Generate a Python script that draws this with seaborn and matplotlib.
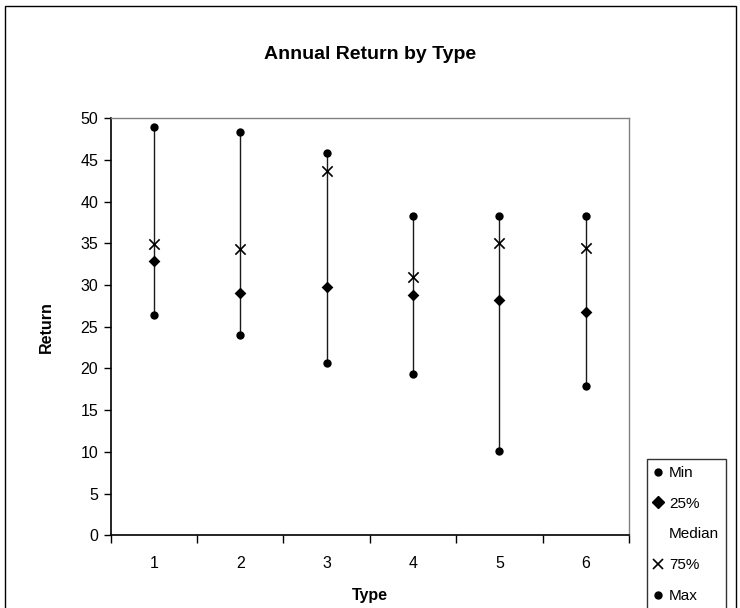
import numpy as np
import pandas as pd
import matplotlib
matplotlib.use("Agg")
import matplotlib.pyplot as plt
from matplotlib.lines import Line2D
from matplotlib.patches import Rectangle
import seaborn as sns

# Summary statistics of annual return for each fund type
types = ["1", "2", "3", "4", "5", "6"]
ret_min = [26.4, 24.0, 20.6, 19.4, 10.1, 17.9]
ret_q1 = [32.9, 29.0, 29.8, 28.8, 28.2, 26.8]
ret_q3 = [34.9, 34.3, 43.7, 31.0, 35.1, 34.5]
ret_max = [48.9, 48.3, 45.9, 38.3, 38.3, 38.3]

sns.set_theme(style="white", rc={
    "text.color": "black", "axes.labelcolor": "black",
    "xtick.color": "black", "ytick.color": "black",
})
plt.rcParams["font.family"] = ["Liberation Sans", "DejaVu Sans"]

fig = plt.figure(figsize=(7.4, 6.08), dpi=100)
ax = fig.add_axes([0.1496, 0.1196, 0.7004, 0.6858])

pos = np.arange(len(types))
long = pd.DataFrame({
    "pos": np.concatenate([pos] * 4),
    "Return": np.concatenate([ret_min, ret_q1, ret_q3, ret_max]),
    "stat": ["Min"] * 6 + ["25%"] * 6 + ["75%"] * 6 + ["Max"] * 6,
})

# high-low lines from minimum to maximum
ax.vlines(pos, ret_min, ret_max, color="#1a1a1a", lw=1.0, zorder=1)

marker_map = {"Min": "o", "25%": "D", "75%": "x", "Max": "o"}
size_map = {"Min": 36, "25%": 36, "75%": 55, "Max": 36}
for stat, grp in long.groupby("stat", sort=False):
    sns.scatterplot(data=grp, x="pos", y="Return", marker=marker_map[stat],
                    s=size_map[stat], color="black", edgecolor="black",
                    linewidth=1.2 if stat == "75%" else 0, ax=ax, zorder=3,
                    legend=False)

ax.set_xlim(-0.5, len(types) - 0.5)
ax.set_ylim(0, 50)
ax.set_yticks(np.arange(0, 51, 5))
ax.set_yticklabels([str(v) for v in range(0, 51, 5)], fontsize=11.5)

# category boundaries carry the tick marks, labels sit at the centers
ax.set_xticks(np.arange(-0.5, len(types), 1.0))
ax.set_xticklabels([])
ax.set_xticks(pos, minor=True)
ax.set_xticklabels(types, minor=True, fontsize=11.5)
ax.tick_params(axis="x", which="major", direction="out", length=6, width=1,
               color="black", bottom=True)
ax.tick_params(axis="x", which="minor", length=0, pad=15)
ax.tick_params(axis="y", direction="out", length=5, width=1, color="black",
               left=True, pad=4)

for side in ["left", "bottom"]:
    ax.spines[side].set_color("black")
    ax.spines[side].set_linewidth(1.2)
for side in ["top", "right"]:
    ax.spines[side].set_color("#808080")
    ax.spines[side].set_linewidth(1.0)

ax.set_xlabel("Type", fontsize=11.5, fontweight="bold", labelpad=12)
ax.set_ylabel("Return", fontsize=11.5, fontweight="bold", labelpad=19)
ax.set_title("Annual Return by Type", fontsize=14, fontweight="bold", pad=43,
             color="black")

handles = [
    Line2D([], [], ls="none", marker="o", color="black", ms=5),
    Line2D([], [], ls="none", marker="D", color="black", ms=6),
    Line2D([], [], ls="none", marker="none", color="black"),
    Line2D([], [], ls="none", marker="x", color="black", ms=7, mew=1.2),
    Line2D([], [], ls="none", marker="o", color="black", ms=5),
]
labels = ["Min", "25%", "Median", "75%", "Max"]
leg = fig.legend(handles, labels, loc="upper left",
                 bbox_to_anchor=(647 / 740, 1 - 459 / 608),
                 frameon=True, fancybox=False, edgecolor="black",
                 fontsize=11, handlelength=0.6, handletextpad=0.4,
                 labelspacing=1.1, borderpad=0.45, borderaxespad=0)
leg.get_frame().set_linewidth(1.0)

# outer chart frame
fig.patches.append(Rectangle((5 / 740, -0.05), 731 / 740, 1.05 - 6 / 608,
                             transform=fig.transFigure, fill=False,
                             edgecolor="black", lw=1.0, zorder=0))

fig.savefig("out.png", dpi=100)
